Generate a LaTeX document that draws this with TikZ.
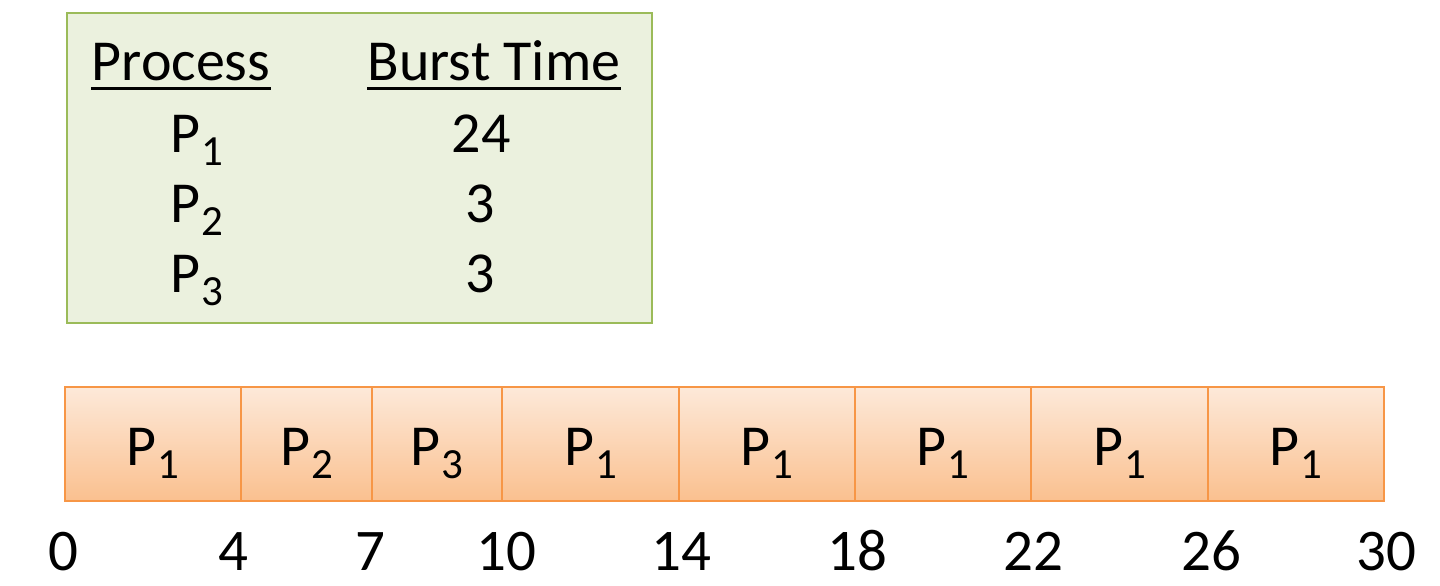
\documentclass[tikz,border=0pt]{standalone}
\usepackage{fontspec}
\setmainfont{Carlito}
\usetikzlibrary{calc}
\definecolor{boxfill}{HTML}{EBF1DE}
\definecolor{boxline}{HTML}{9BBB59}
\definecolor{barline}{HTML}{F79646}
\definecolor{bartop}{HTML}{FDE9D9}
\definecolor{barbot}{HTML}{FAC08F}
\newcommand{\psub}[1]{\kern0.5pt\raisebox{-6.5pt}{\fontsize{21.5}{24}\selectfont #1}}
\tikzset{
  txt/.style={inner sep=0pt, anchor=base, font=\fontsize{29}{33}\selectfont},
  num/.style={inner sep=0pt, anchor=base, font=\fontsize{29.5}{33}\selectfont},
  cell/.style={draw=barline, line width=1pt, top color=bartop, bottom color=barbot},
  tbl/.style={draw=boxline, line width=1pt, fill=boxfill},
  uline/.style={line width=1.5pt}
}
\begin{document}
\begin{tikzpicture}[x=0.5pt,y=-0.5pt]
\useasboundingbox (0,0) rectangle (1440,585);
% table box
\draw[tbl] (67,13) rectangle (652,323);
\node[txt] (hproc) at (181,80) {Process};
\node[txt] (hburst) at (494,80) {Burst Time};
\draw[uline] ($(hproc.base west)+(0,8)$) -- ($(hproc.base east)+(0,8)$);
\draw[uline] ($(hburst.base west)+(0,8)$) -- ($(hburst.base east)+(0,8)$);
\node[txt] (r1p) at (197,152) {P\psub{1}};
\node[txt] (r2p) at (197,222) {P\psub{2}};
\node[txt] (r3p) at (197,292) {P\psub{3}};
\node[txt] (r1b) at (481,152) {24};
\node[txt] (r2b) at (480,222) {3};
\node[txt] (r3b) at (480,292) {3};
% gantt
\foreach \a/\b/\l [count=\i] in {65/241/1,241/372/2,372/502/3,502/679/1,679/855/1,855/1031/1,1031/1208/1,1208/1384/1}{
  \draw[cell] (\a,387) rectangle (\b,501);
  \node[txt] (g\i) at ({(\a+\b)/2},465) {P\psub{\l}};
}
\foreach \x/\t [count=\i] in {63/0,233/4,370/7,506/10,681/14,857/18,1033/22,1211/26,1386/30}{
  \node[num] (t\i) at (\x,570) {\t};
}
\end{tikzpicture}
\end{document}
